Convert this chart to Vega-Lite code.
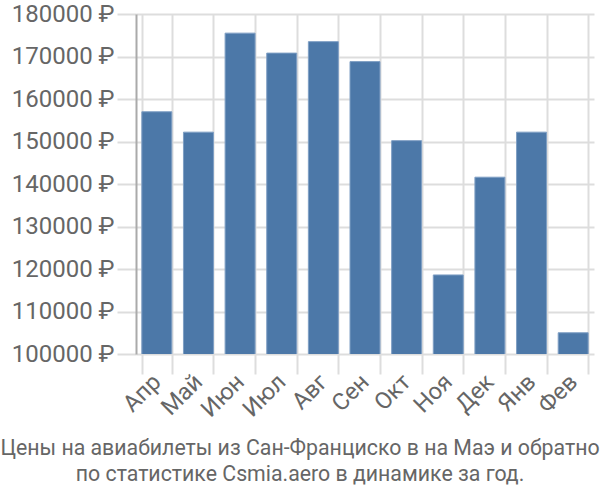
{
  "$schema": "https://vega.github.io/schema/vega-lite/v6.json",
  "autosize": {"type": "none"},
  "padding": {"left": 136, "top": 14, "right": 6, "bottom": 146},
  "width": 458,
  "height": 340,
  "background": "white",
  "data": {"values": [
    {"month": "Апр", "price": 157000},
    {"month": "Май", "price": 152200},
    {"month": "Июн", "price": 175500},
    {"month": "Июл", "price": 170800},
    {"month": "Авг", "price": 173500},
    {"month": "Сен", "price": 168800},
    {"month": "Окт", "price": 150200},
    {"month": "Ноя", "price": 118600},
    {"month": "Дек", "price": 141600},
    {"month": "Янв", "price": 152200},
    {"month": "Фев", "price": 105000}
  ]},
  "title": {
    "text": ["Цены на авиабилеты из Сан-Франциско в на Маэ и обратно", "по статистике Csmia.aero в динамике за год."],
    "orient": "bottom",
    "anchor": "middle",
    "dx": -65,
    "offset": 17,
    "font": "Roboto",
    "fontSize": 21.3,
    "fontWeight": "normal",
    "color": "#666666",
    "lineHeight": 26
  },
  "mark": {"type": "bar", "color": "#4c78a8", "stroke": "#7f9fc4", "strokeWidth": 1, "clip": true},
  "encoding": {
    "x": {
      "field": "month", "type": "nominal", "sort": null,
      "scale": {"paddingInner": 0.28, "paddingOuter": 0.14},
      "axis": {
        "title": null, "labelAngle": -45, "labelAlign": "right", "labelBaseline": "middle",
        "labelFont": "Roboto", "labelFontSize": 23.5, "labelColor": "#666666",
        "tickBand": "extent", "grid": true, "gridColor": "#dddddd", "gridWidth": 2,
        "tickColor": "#dddddd", "tickWidth": 2, "tickSize": 20, "domain": false, "labelPadding": 4
      }
    },
    "y": {
      "field": "price", "type": "quantitative",
      "scale": {"domain": [100000, 180000], "zero": false, "nice": false},
      "axis": {
        "title": null, "values": [100000, 110000, 120000, 130000, 140000, 150000, 160000, 170000, 180000],
        "labelExpr": "datum.value + ' ₽'",
        "labelFont": "Roboto", "labelFontSize": 24, "labelColor": "#666666",
        "grid": true, "gridColor": "#dddddd", "gridWidth": 2,
        "tickColor": "#dddddd", "tickWidth": 2, "tickSize": 19, "labelPadding": 3,
        "domainColor": "#aaaaaa", "domainWidth": 2
      }
    }
  },
  "config": {"view": {"stroke": null}}
}
